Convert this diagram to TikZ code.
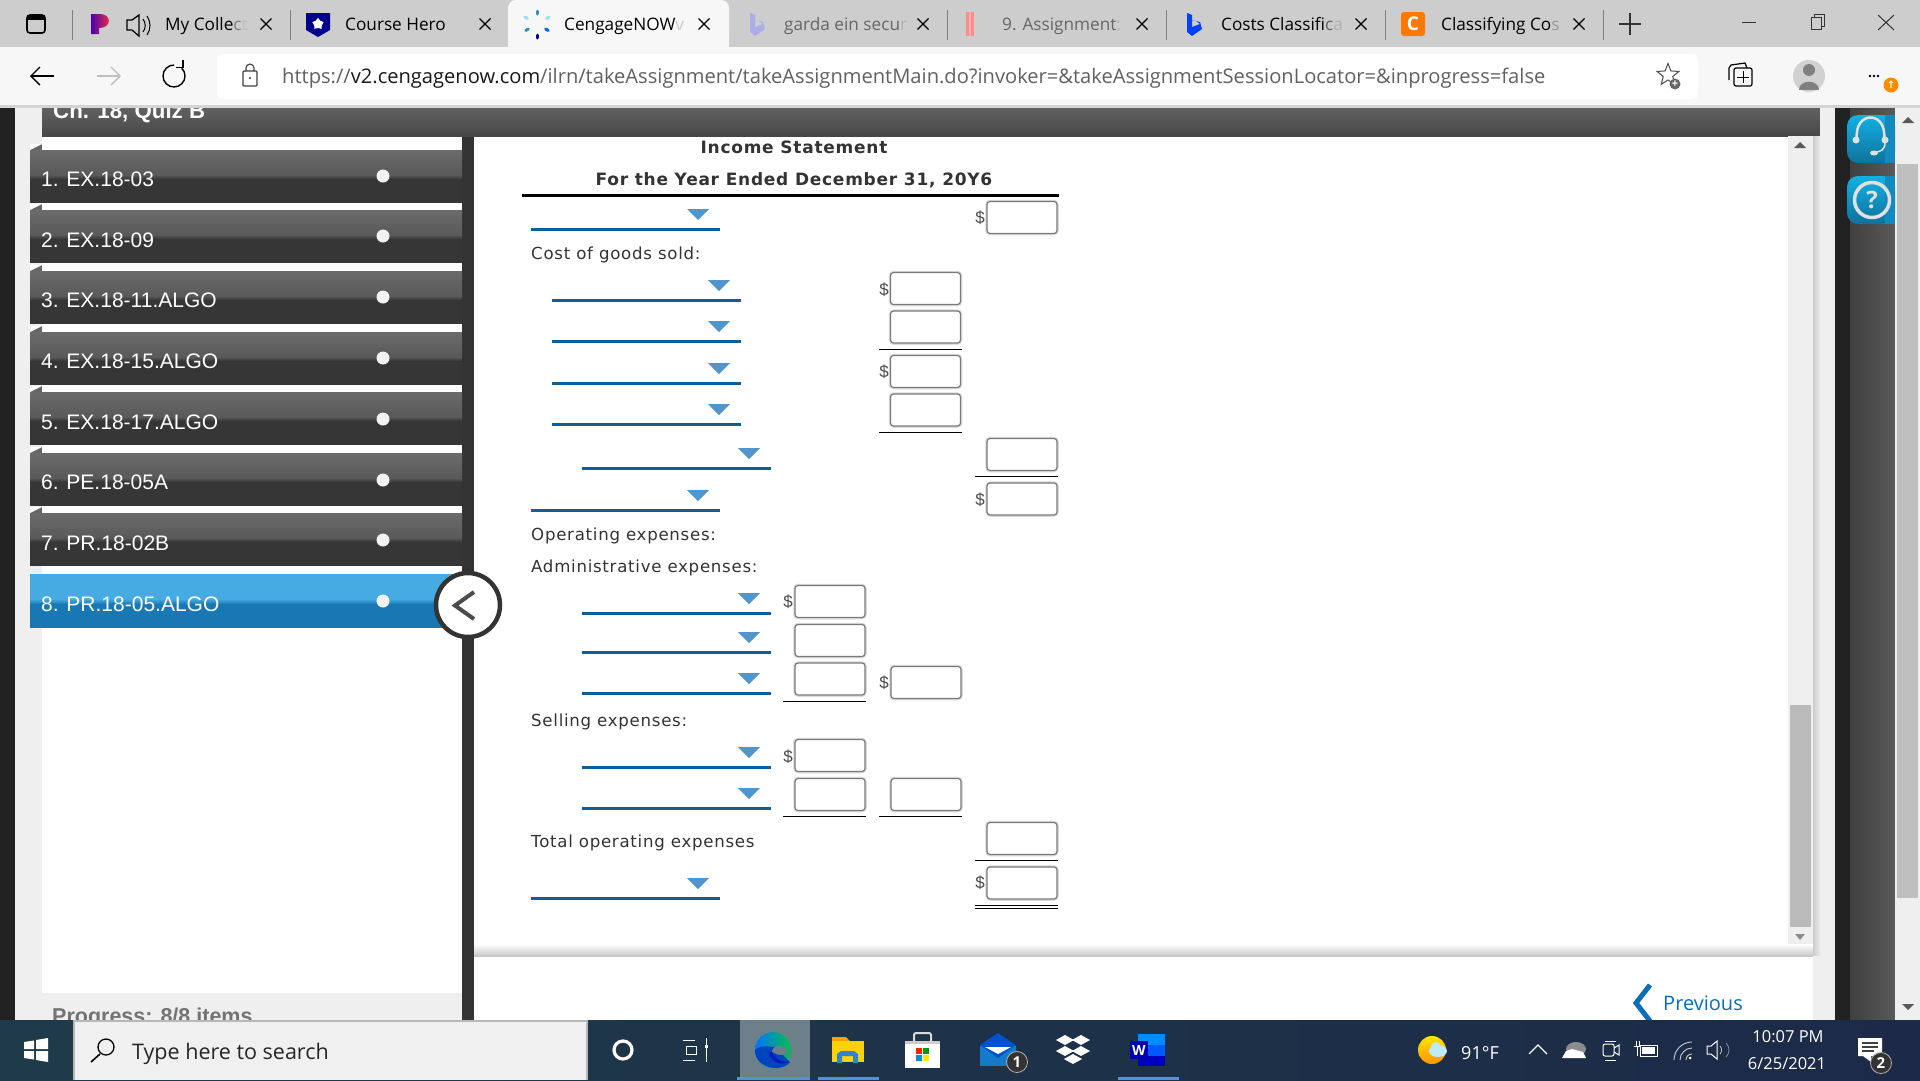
\documentclass[tikz,border=0pt]{standalone}
\usepackage{fontspec}
\setmainfont{Open Sans}
\newfontfamily\formfont[LetterSpace=4.4]{DejaVu Sans}
\newfontfamily\listfont{Liberation Sans}
\newfontfamily\symfont{DejaVu Sans}
\usepackage{tikz}
\usetikzlibrary{arrows.meta}
\usetikzlibrary{shapes.geometric}
\definecolor{tabgray}{HTML}{CDCDCD}
\definecolor{barwhite}{HTML}{F7F7F7}
\definecolor{panelgray}{HTML}{EFEFEF}
\definecolor{sepdark}{HTML}{333333}
\definecolor{selblue}{HTML}{0F5E98}
\definecolor{tripblue}{HTML}{5095CC}
\definecolor{linkblue}{HTML}{0A6EBD}
\definecolor{formtext}{HTML}{333333}
\definecolor{taskleft}{HTML}{1F3B49}
\definecolor{taskright}{HTML}{1C2A48}
\definecolor{helpblue}{HTML}{15A3DE}
\definecolor{itemtop}{HTML}{45ABE2}
\definecolor{itembottom}{HTML}{1878B4}
\begin{document}
\begin{tikzpicture}[x=1pt,y=-1pt]
	\useasboundingbox (0,0) rectangle (1920,1080);
	\tikzstyle{tabtext}=[anchor=base west, inner sep=0, font=\fontsize{17.2}{20}\selectfont]
	\tikzstyle{formlabel}=[anchor=base west, inner sep=0, text=formtext, font=\formfont\fontsize{16.6}{18}\selectfont]
	\tikzstyle{formtitle}=[anchor=base, inner sep=0, text=formtext, font=\formfont\bfseries\fontsize{17}{18}\selectfont]
	\tikzstyle{itemtext}=[anchor=base west, inner sep=0, text=white, font=\listfont\fontsize{21}{24}\selectfont]
	\tikzstyle{ansbox}=[rectangle, rounded corners=3pt, draw=black!52, line width=1.2pt, fill=white, minimum width=70pt, minimum height=32pt, inner sep=0, preaction={draw=black!14, line width=3.5pt}]
	\tikzstyle{dollar}=[inner sep=0, text=black!70, font=\listfont\fontsize{17}{18}\selectfont]
	\tikzstyle{selline}=[selblue, line width=3pt]
	\tikzstyle{seltri}=[tripblue]
	\tikzstyle{sumrule}=[black, line width=1pt]
	\tikzstyle{tasktext}=[inner sep=0, text=white, font=\fontsize{18}{21}\selectfont]
	\tikzstyle{badge}=[circle, inner sep=0, minimum size=21pt, fill=black!80, draw=white!70!black, line width=.8pt, text=white, font=\bfseries\fontsize{15}{16}\selectfont]

	% page behind
	\fill[white] (0,0) rectangle (1920,1080);
	\fill[black!87] (0,108) rectangle (15,1020);
	\fill[panelgray] (15,108) rectangle (462,1020);
	\fill[white] (42,136) rectangle (462,993);
	\node[anchor=base west, inner sep=0, text=black!55, font=\listfont\bfseries\fontsize{21.5}{24}\selectfont] (progress) at (52,1023) {Progress: 8/8 items};
	\fill[sepdark] (462,136) rectangle (474,1020);
	\shade[top color=black!62, bottom color=black!72] (42,108) rectangle (1820,136);
	\node[anchor=base west, inner sep=0, text=white, font=\listfont\bfseries\fontsize{22.3}{24}\selectfont] (quiz) at (53,118) {Ch. 18, Quiz B};

	% side list
	\foreach \i/\word/\top/\dot/\base in {1/{1. EX.18-03}/150/176/186,2/{2. EX.18-09}/210/236/247,3/{3. EX.18-11.ALGO}/271/297/307,4/{4. EX.18-15.ALGO}/332/358/368,5/{5. EX.18-17.ALGO}/392/419/429,6/{6. PE.18-05A}/453/480/489,7/{7. PR.18-02B}/513/540/550,8/{8. PR.18-05.ALGO}/574/601/611} {
		\ifnum\i=8
			\fill[itemtop] (30,\top) rectangle (462,\top+25);
			\shade[top color=itemtop, bottom color=itembottom] (30,\top+25) rectangle (462,\top+30);
			\fill[itembottom] (30,\top+30) rectangle (462,\top+54);
		\else
			\fill[black!60!white] (30,\top-6) -- (42,\top-6) -- (42,\top) -- (30,\top) -- cycle;
			\fill[white] (30,\top-6) -- (30,\top) -- (42,\top-6) -- cycle;
			\shade[top color=black!58, bottom color=black!65] (30,\top) rectangle (462,\top+25);
			\shade[top color=black!65, bottom color=black!79] (30,\top+25) rectangle (462,\top+29);
			\fill[black!79] (30,\top+29) rectangle (462,\top+53);
		\fi
		\node[itemtext] (item\i) at (41,\base) {\word};
		\node[circle, fill=black!5, inner sep=0, minimum size=13pt] (dot\i) at (383,\dot) {};
	}
	\node[circle, draw=sepdark, line width=4.5pt, fill=white, minimum size=64pt, inner sep=0] (collapse) at (468,605) {};
	\draw[black!70, line width=4pt] (474,592) -- (455,605.5) -- (474,619);

	% form
	\node[formtitle] (title) at (794,153) {Income Statement};
	\node[formtitle] (period) at (794,185) {For the Year Ended December 31, 20Y6};
	\draw[black, line width=3pt] (522,195) -- (1059,195);
	\node[formlabel] (cogs) at (531,259) {Cost of goods sold:};
	\node[formlabel] (opex) at (531,540) {Operating expenses:};
	\node[formlabel] (admin) at (531,572) {Administrative expenses:};
	\node[formlabel] (selling) at (531,726) {Selling expenses:};
	\node[formlabel] (totalop) at (531,847) {Total operating expenses};
	\foreach \l/\y in {531/229,552/300,552/341,552/383,552/424,582/468,531/510,582/613,582/652,582/693,582/767,582/808,531/898} {
		\draw[selline] (\l,\y) -- (\l+189,\y);
		\fill[seltri] (\l+156,\y-20) -- (\l+178,\y-20) -- (\l+167,\y-9) -- cycle;
	}
	\foreach \i/\x/\y in {1/1022/217.5,2/925.5/288.5,3/925.5/327,4/925.5/371.5,5/925.5/410,6/1022/454.5,7/1022/499,8/830/601.5,9/830/640.5,10/830/679,11/926/682.5,12/830/755.5,13/830/794.5,14/926/794.5,15/1022/838.5,16/1022/883} {
		\node[ansbox] (box\i) at (\x,\y) {};
	}
	\foreach \x/\y/\name in {980/218/d1,884/290/d2,884/372/d3,980/500/d4,788/602/d5,884/683/d6,788/757/d7,980/883/d8} {
		\node[dollar] (\name) at (\x,\y) {\$};
	}
	\foreach \a/\b/\y in {879/962/349,879/962/432,975/1058/476,783/866/701,783/866/816,879/962/816,975/1058/860,975/1058/905,975/1058/908} {
		\draw[sumrule] (\a,\y) -- (\b,\y);
	}

	% scroll bars
	\fill[panelgray] (1788,136) rectangle (1813,956);
	\shade[left color=black!20, right color=black!8] (1813,136) rectangle (1820,956);
	\fill[black!27] (1790,705) rectangle (1811,927);
	\fill[black!65] (1794,148) -- (1806,148) -- (1800,142) -- cycle;
	\fill[black!45] (1795,934) -- (1805,934) -- (1800,940) -- cycle;
	\shade[top color=white, bottom color=black!22] (474,944) rectangle (1813,956);
	\fill[panelgray] (1813,956) rectangle (1835,1020);
	\fill[panelgray] (1820,108) rectangle (1835,1020);
	\fill[black!87] (1835,108) rectangle (1850,1020);
	\shade[left color=black!75, right color=black!65] (1850,108) rectangle (1895,1020);
	\fill[panelgray] (1895,108) rectangle (1920,1020);
	\fill[black!25] (1897,164) rectangle (1918,898);
	\fill[black!65] (1902,123) -- (1914,123) -- (1908,117) -- cycle;
	\fill[black!65] (1902,1004) -- (1914,1004) -- (1908,1010) -- cycle;

	% help buttons
	\shade[top color=helpblue!85!cyan, bottom color=helpblue!70!black, rounded corners=11pt] (1847,115) -- (1895,115) -- (1895,163) -- (1847,163) -- cycle;
	\fill[helpblue!85!black] (1885,115) rectangle (1895,163);
	\shade[top color=helpblue!85!cyan, bottom color=helpblue!70!black, rounded corners=11pt] (1847,176) -- (1895,176) -- (1895,224) -- (1847,224) -- cycle;
	\fill[helpblue!85!black] (1885,176) rectangle (1895,224);
	\draw[black!12, line width=2.5pt] (1857,140) .. controls (1853,110) and (1888,110) .. (1884,140);
	\fill[black!12] (1856,140) circle (3.5pt) (1885,140) circle (3.5pt);
	\draw[black!12, line width=1.5pt] (1885,143) .. controls (1885,150) and (1880,152) .. (1875,152);
	\fill[black!12] (1874,153) ellipse (4pt and 2.5pt);
	\node[circle, draw=black!12, line width=3.5pt, minimum size=35pt, inner sep=0, text=black!12, font=\bfseries\fontsize{24}{26}\selectfont] (help) at (1872,200) {?};

	% previous
	\draw[linkblue, line width=5pt] (1650,985) -- (1636,1003) -- (1650,1021);
	\node[anchor=base west, inner sep=0, text=linkblue, font=\fontsize{20}{24}\selectfont] (previous) at (1663,1010) {Previous};

	% browser bar
	\fill[tabgray] (0,0) rectangle (1920,47);
	\fill[barwhite] (0,47) rectangle (1920,105);
	\fill[black!17] (0,105) rectangle (1920,108);
	\fill[white, rounded corners=5pt] (217,54) rectangle (1698,99);
	\fill[barwhite, rounded corners=8pt] (508,47) -- (508,0) -- (729,0) -- (729,47) -- cycle;
	\fill[barwhite] (508,40) rectangle (729,47);
	\foreach \x in {72,290,947,1166,1385,1603} {
		\draw[black!50, line width=.9pt] (\x,10) -- (\x,40);
	}
	\foreach \x in {266,485,704,923,1142,1361,1579} {
		\draw[black, line width=1.2pt] (\x-5.5,18.5) -- (\x+5.5,29.5) (\x-5.5,29.5) -- (\x+5.5,18.5);
	}
	\node[tabtext] (tab1) at (165,30) {My Colle\textcolor{black!50}{c}\textcolor{black!25}{t}};
	\node[tabtext] (tab2) at (345,30) {Course Hero};
	\node[tabtext] (tab3) at (564,30) {CengageNOW\textcolor{black!20}{v}};
	\node[tabtext, text=black!60] (tab4) at (784,30) {garda ein secu\textcolor{black!30}{r}};
	\node[tabtext, text=black!60] (tab5) at (1002,30) {9. Assignment\textcolor{black!30}{:}};
	\node[tabtext] (tab6) at (1221,30) {Costs Classifi\textcolor{black!60}{c}\textcolor{black!30}{a}};
	\node[tabtext] (tab7) at (1441,30) {Classifying Co\textcolor{black!40}{s}};
	\node[anchor=base west, inner sep=0, text=black!62, font=\fontsize{20.12}{24}\selectfont] (url) at (282,83) {https://\textcolor{black!90}{v2.cengagenow.com}/ilrn/takeAssignment/takeAssignmentMain.do?invoker=\&takeAssignmentSessionLocator=\&inprogress=false};

	% tab icons
	\draw[black, line width=1.6pt, rounded corners=3pt] (27,15) rectangle (45,33);
	\fill[black] (27,15) rectangle (45,20);
	\shade[left color=blue!70!red, right color=red!80!white] (91,14) -- (100,14) .. controls (112,14) and (112,28) .. (99,28) -- (99,34) -- (91,34) -- cycle;
	\draw[black, line width=1.3pt] (127,20) -- (132,20) -- (139,15) -- (139,36) -- (132,30) -- (127,30) -- cycle;
	\draw[black, line width=1pt] (143,19) .. controls (146,23) and (146,28) .. (143,32);
	\draw[black, line width=1pt] (147,16) .. controls (151,22) and (151,29) .. (147,35);
	\fill[blue!55!black] (306,13) -- (330,13) -- (330,30) -- (318,37) -- (306,30) -- cycle;
	\node[star, star points=5, fill=white, inner sep=0, minimum size=12pt] (herostar) at (318,24) {};
	\foreach \a/\r/\c in {90/10/cyan!70!black,30/11/cyan!40,330/10/blue!60!cyan,270/11/blue!60!black,210/10/cyan!70!black,150/11/cyan!40} {
		\draw[\c, line width=3pt, line cap=round] (537,24) ++(\a:\r pt) -- ++(\a:3pt);
	}
	\fill[blue!45!white, opacity=.5] (750,13) -- (755,15) -- (755,27) -- (763,24) -- (759,21) -- (755,20) -- (763,22) -- (765,29) -- (755,36) -- (750,32) -- cycle;
	\fill[red!45!white] (966,12) rectangle (974,36);
	\fill[white!70!red] (969,12) rectangle (971,36);
	\fill[blue!75!cyan] (1187,13) -- (1192,15) -- (1192,27) -- (1200,24) -- (1196,21) -- (1192,20) -- (1200,22) -- (1202,29) -- (1192,36) -- (1187,32) -- cycle;
	\node[rectangle, rounded corners=3pt, fill=orange!95!red, text=white, minimum size=24pt, inner sep=0, font=\bfseries\fontsize{19}{20}\selectfont] (chegg) at (1413,24) {C};
	\draw[black!80, line width=1.2pt] (1619,24) -- (1641,24) (1630,13) -- (1630,35);
	\draw[black!80, line width=1pt] (1742,22) -- (1756,22);
	\draw[black!80, line width=1pt] (1811,17) rectangle (1821,29);
	\draw[black!80, line width=1pt] (1814,17) -- (1814,14) -- (1824,14) -- (1824,26) -- (1821,26);
	\draw[black!80, line width=1pt] (1878,15) -- (1894,30) (1878,30) -- (1894,15);

	% address icons
	\draw[black, line width=1.4pt, -{Straight Barb[length=9pt,width=18pt]}] (54,76) -- (30,76);
	\draw[black!25, line width=1.4pt, -{Straight Barb[length=9pt,width=18pt]}] (97,76) -- (121,76);
	\draw[black, line width=1.4pt] (181.8,68.2) arc (45:-270:11pt);
	\draw[black, line width=1.4pt] (176,67.5) -- (183,67.5) -- (183,60);
	\draw[black!75, line width=1.1pt, rounded corners=1pt] (243,71) rectangle (257,86);
	\draw[black!75, line width=1.1pt] (246,71) -- (246,68) arc (180:0:4pt) -- (254,71);
	\fill[black!75] (250,78) circle (1.2pt);
	\node[star, star points=5, star point ratio=2.3, draw=black!70, line width=1pt, inner sep=0, minimum size=23pt] (favstar) at (1668,75) {};
	\node[circle, fill=black!60, text=white, inner sep=0, minimum size=11pt, font=\bfseries\fontsize{11}{11}\selectfont] (favplus) at (1675,84) {+};
	\draw[black, line width=1.2pt, rounded corners=2pt] (1734,68) rectangle (1752,86);
	\draw[black, line width=1.2pt] (1729,80) -- (1729,68) -- (1731,65) -- (1745,63) -- (1747,68);
	\draw[black, line width=1pt] (1743,71) -- (1743,83) (1737,77) -- (1749,77);
	\fill[black!18] (1809,76) circle (16pt);
	\fill[black!50] (1809,70) circle (6pt);
	\fill[black!50] (1799,90) .. controls (1799,79) and (1819,79) .. (1819,90) -- cycle;
	\foreach \x in {1870,1874,1878} {
		\fill[black] (\x,76) circle (1.3pt);
	}
	\node[circle, fill=orange!90!yellow, text=white, inner sep=0, minimum size=15pt, font=\symfont\bfseries\fontsize{10}{10}\selectfont] (update) at (1891,85) {↑};

	% task bar
	\shade[left color=taskleft, right color=taskright] (0,1020) rectangle (1920,1080);
	\fill[black!6] (73,1020) rectangle (588,1080);
	\draw[black!28, line width=2pt] (74,1080) -- (74,1021) -- (587,1021) -- (587,1080);
	\node[anchor=base west, inner sep=0, text=black!85, font=\fontsize{21.5}{24}\selectfont] (search) at (132,1059) {Type here to search};
	\draw[black, line width=1.3pt] (106,1047) circle (8pt);
	\draw[black, line width=1.6pt] (100,1054) -- (91,1062);
	\fill[white] (24,1042) -- (34,1040.5) -- (34,1049) -- (24,1049) -- cycle (36,1040) -- (48,1038) -- (48,1049) -- (36,1049) -- cycle (24,1051) -- (34,1051) -- (34,1059.5) -- (24,1058) -- cycle (36,1051) -- (48,1051) -- (48,1062) -- (36,1060) -- cycle;
	\draw[white, line width=3.2pt] (623,1050) circle (9pt);
	\draw[white, line width=1pt] (683,1040) -- (695,1040) (683,1060) -- (695,1060) (686,1046) rectangle (696,1054) (706,1038) -- (706,1062);
	\fill[white] (704.5,1045) rectangle (707.5,1048);
	\fill[white!35!taskleft] (740,1020) rectangle (810,1080);
	\foreach \a/\b in {737/810,818/879,1118/1179} {
		\fill[cyan!55!blue!70!white] (\a,1077) rectangle (\b,1080);
	}
	% edge
	\shade[left color=blue!55!cyan, right color=green!60!cyan!75!black] (773,1050) circle (18pt);
	\fill[blue!65!cyan!75!black] (755,1050) .. controls (755,1062) and (766,1068) .. (776,1068) .. controls (782,1068) and (787,1066) .. (790,1062) -- (775,1047) .. controls (768,1047) and (762,1044) .. (755,1050) -- cycle;
	\fill[white!35!taskleft] (772,1052) .. controls (772,1044) and (786,1044) .. (788,1052) .. controls (786,1056) and (778,1056) .. (772,1052) -- cycle;
	\fill[blue!70!black!90!cyan] (769,1053) .. controls (771,1062) and (782,1066) .. (788,1062) .. controls (780,1062) and (774,1058) .. (772,1052) -- cycle;
	% explorer
	\fill[orange!75!yellow] (832,1037) -- (846,1037) -- (850,1041) -- (832,1041) -- cycle;
	\fill[yellow!70!orange] (832,1041) rectangle (864,1062);
	\fill[cyan!55!blue!85!white] (837,1063) -- (837,1054) -- (841,1051) -- (854,1051) -- (858,1054) -- (858,1063) -- (853,1063) -- (853,1056) -- (842,1056) -- (842,1063) -- cycle;
	% store
	\fill[white] (905,1041) rectangle (940,1068);
	\fill[black!20] (905,1041) rectangle (940,1044);
	\draw[black!15, line width=2pt, rounded corners=2pt] (914,1041) -- (914,1033) -- (931,1033) -- (931,1041);
	\fill[red!75!orange] (916,1048) rectangle (922,1054);
	\fill[green!60!black] (923,1048) rectangle (929,1054);
	\fill[cyan!70!blue] (916,1055) rectangle (922,1061);
	\fill[yellow!90!orange] (923,1055) rectangle (929,1061);
	% mail
	\fill[cyan!60!blue] (980,1046) rectangle (1016,1066);
	\fill[blue!60!cyan!80!black] (980,1045) -- (998,1033) -- (1016,1045) -- (998,1058) -- cycle;
	\fill[white] (985,1047) -- (1011,1047) -- (998,1054) -- cycle;
	\node[badge] (mailcount) at (1017,1062) {1};
	\foreach \x/\y in {1065/1040,1081/1040,1065/1051,1081/1051,1073/1059} {
		\fill[white] (\x,\y-5) -- (\x+9,\y) -- (\x,\y+5) -- (\x-9,\y) -- cycle;
	}
	% word
	\fill[blue!45!cyan] (1138,1034) rectangle (1165,1045);
	\fill[blue!65!cyan] (1138,1045) rectangle (1165,1056);
	\fill[blue!75!black] (1138,1056) rectangle (1165,1066);
	\node[rectangle, fill=blue!70!black, text=white, minimum size=18pt, inner sep=0, font=\bfseries\fontsize{14}{14}\selectfont] (wordw) at (1139,1050) {W};
	% tray
	\shade[top color=yellow!80!orange, bottom color=orange!85!yellow] (1432,1050) circle (14pt);
	\fill[cyan!25!white] (1438,1051) ellipse (9pt and 6pt);
	\fill[cyan!25!white] (1436,1047) circle (5pt);
	\node[tasktext, anchor=base west] (weather) at (1461,1059) {91°F};
	\draw[white, line width=1.2pt] (1529,1054) -- (1538,1045) -- (1547,1054);
	\fill[black!45] (1576,1049) ellipse (10pt and 7pt);
	\fill[white] (1562,1058) -- (1586,1058) -- (1583,1052) -- (1572,1049) -- (1566,1051) -- cycle;
	\draw[white, line width=1pt, rounded corners=2pt] (1603,1044) rectangle (1614,1056);
	\draw[white, line width=1pt] (1614,1048) -- (1619,1045) -- (1619,1055) -- (1614,1052);
	\draw[white, line width=.7pt] (1605,1041) -- (1616,1041) (1605,1060) -- (1616,1060);
	\draw[white, line width=1pt] (1640,1045) rectangle (1657,1056);
	\fill[white] (1642,1047) rectangle (1655,1054);
	\draw[white, line width=1pt] (1636,1041) -- (1636,1046) (1639,1041) -- (1639,1046) (1634,1046) -- (1641,1046) (1637.5,1046) -- (1637.5,1056);
	\draw[white!80!black, line width=.9pt] (1674,1060) arc (180:90:18pt) (1680,1060) arc (180:90:12pt) (1686,1060) arc (180:90:6pt);
	\fill[white] (1690,1058) circle (1.5pt);
	\draw[white, line width=1pt] (1707,1046) -- (1711,1046) -- (1717,1041) -- (1717,1059) -- (1711,1054) -- (1707,1054) -- cycle;
	\draw[white!75!black, line width=.8pt] (1720,1046) .. controls (1722,1048) and (1722,1052) .. (1720,1054);
	\draw[white!55!black, line width=.8pt] (1726,1043) .. controls (1730,1047) and (1730,1053) .. (1726,1057);
	\node[tasktext, font=\fontsize{16.5}{20}\selectfont] (clock) at (1788,1037) {10:07 PM};
	\node[tasktext, font=\fontsize{16.5}{20}\selectfont] (date) at (1787,1064) {6/25/2021};
	\fill[white] (1858,1038) rectangle (1882,1056) (1863,1056) -- (1871,1056) -- (1871,1062) -- cycle;
	\draw[black!75, line width=1.2pt] (1862,1043) -- (1878,1043) (1862,1047) -- (1878,1047) (1862,1051) -- (1874,1051);
	\node[badge] (notecount) at (1881,1063) {2};
\end{tikzpicture}
\end{document}
